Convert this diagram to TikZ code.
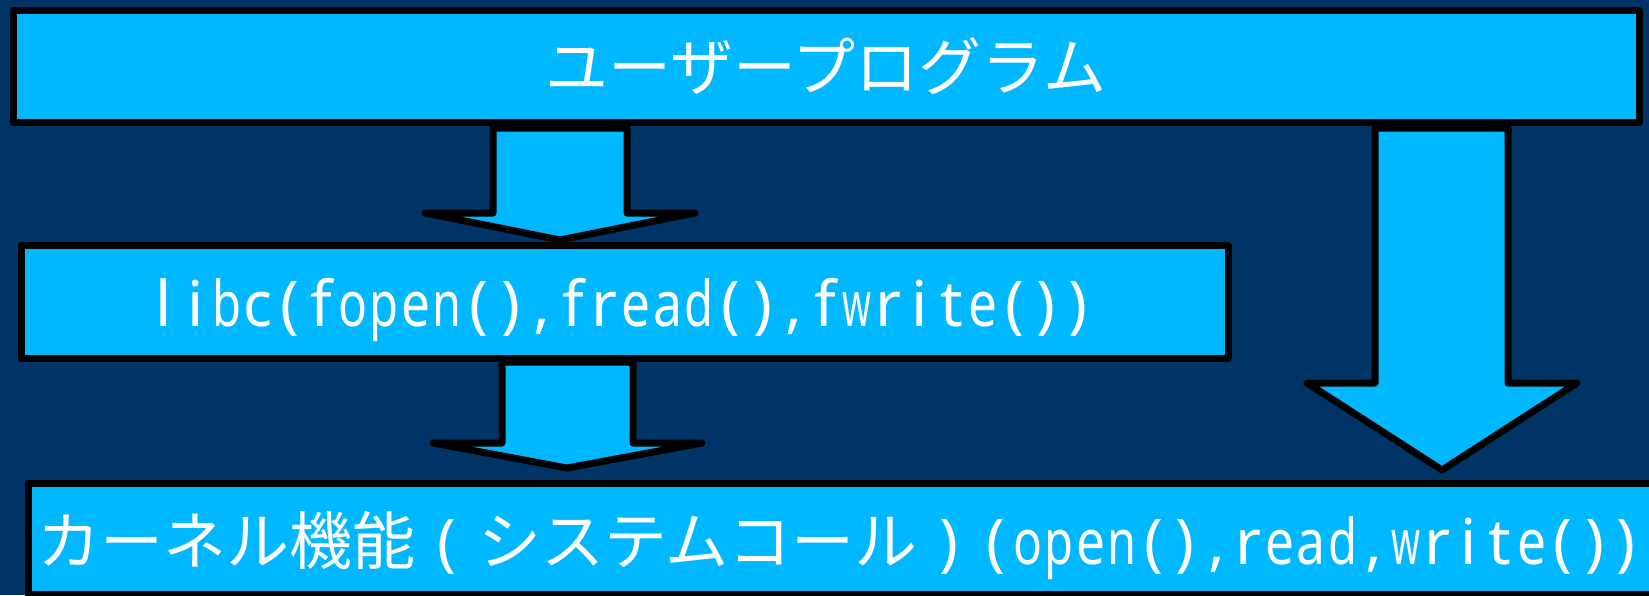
\documentclass[tikz,border=0pt]{standalone}
\usepackage{fontspec}
\usepackage{graphicx}
\newfontfamily\jp{Noto Sans CJK JP}
\newfontfamily\lat{Noto Sans}
\definecolor{bg}{RGB}{0,51,102}
\definecolor{boxfill}{RGB}{0,184,255}
\newsavebox\hwbox
\makeatletter
\newcommand\hwtext[1]{\@tfor\hw@c:=#1\do{%
  \sbox\hwbox{\lat\hw@c}%
  \ifdim\wd\hwbox>0.46em
    \makebox[0.5em][c]{\resizebox{0.46em}{\height}{\usebox\hwbox}}%
  \else
    \makebox[0.5em][c]{\usebox\hwbox}%
  \fi}}
\makeatother
\newcommand\fwparen[1]{\makebox[1em][c]{\lat #1}}
\tikzset{
  blk/.style={draw=black, fill=boxfill, line width=7pt, line join=round, rectangle, inner sep=0pt, outer sep=0pt},
  blockarrow/.style={draw=black, fill=boxfill, line width=7pt, line join=round},
  lbl/.style={text=white, inner sep=0pt, font=\jp\fontsize{63}{70}\selectfont}
}
\begin{document}
\begin{tikzpicture}[x=1pt,y=-1pt]
\useasboundingbox (0,0) rectangle (1649,595);
\fill[bg] (0,0) rectangle (1649,595);
\clip (0,0) rectangle (1649,595);

% block arrows
\draw[blockarrow] (493,128) -- (493,213) -- (425,213) -- (560,240) -- (695,213) -- (627,213) -- (627,128) -- cycle;
\draw[blockarrow] (1375,128) -- (1375,383) -- (1307,383) -- (1442,470) -- (1577,383) -- (1508,383) -- (1508,128) -- cycle;
\draw[blockarrow] (502,362) -- (502,443) -- (433,443) -- (567,468) -- (702,443) -- (633,443) -- (633,362) -- cycle;

% boxes
\node[blk, minimum width=1626pt, minimum height=112pt] (top) at (826,66) {};
\node[blk, minimum width=1207pt, minimum height=112.5pt] (libc) at (624.5,301.75) {};
\node[blk, minimum width=1672pt, minimum height=110.5pt] (kernel) at (864,538.75) {};

% labels
\node[lbl, anchor=base] (toplbl) at (826,90) {ユーザープログラム};
\node[lbl, anchor=base west] (libclbl) at (148,326) {\hwtext{libc(fopen(),fread(),fwrite())}};
\node[lbl, anchor=base west] (kernellbl) at (37,564) {カーネル機能\fwparen{(}システムコール\fwparen{)}\hwtext{(open(),read,write())}};
\end{tikzpicture}
\end{document}
